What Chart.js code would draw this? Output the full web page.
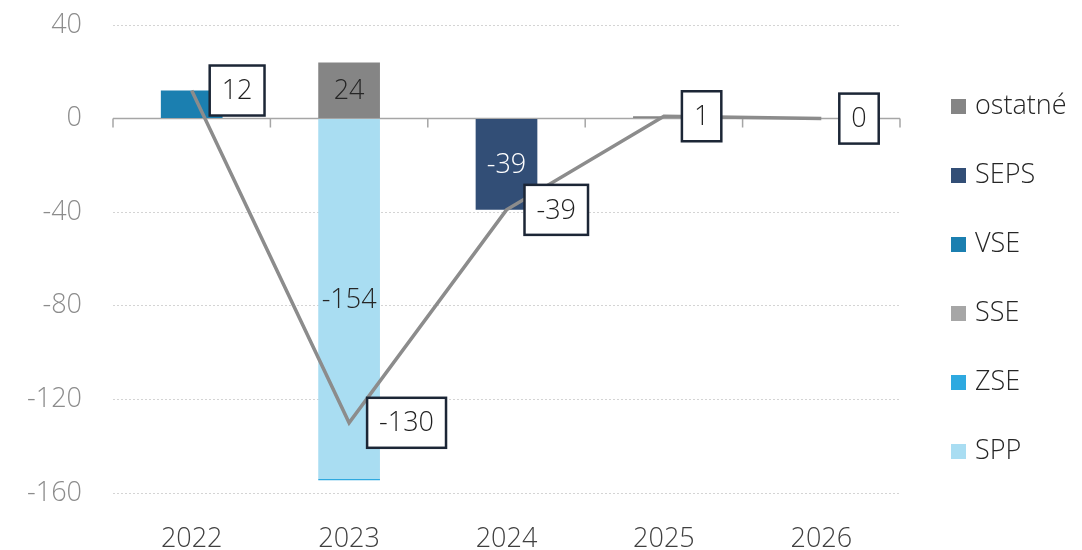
<!DOCTYPE html>
<html>
<head>
<meta charset="utf-8">
<script src="https://cdn.jsdelivr.net/npm/chart.js@4.4.1/dist/chart.umd.min.js"></script>
<style>
    html, body { margin: 0; padding: 0; background: #fff; }
    #wrap { width: 1082px; height: 550px; }
</style>
</head>
<body>
<div id="wrap"><canvas id="chart" width="1082" height="550"></canvas></div>
<script>
// Chart data
const years = ['2022', '2023', '2024', '2025', '2026'];
const spp = [null, -154, null, null, null];
const zse = [null, -0.5, null, null, null];
const sse = [null, null, null, null, null];
const vse = [12, null, null, null, null];
const seps = [null, null, -39, null, null];
const ostatne = [null, 24, null, 1, 0.3];
const total = [12, -130, -39, 1, 0];
const yTicks = [40, 0, -40, -80, -120, -160];
const legendOrder = ['ostatné', 'SEPS', 'VSE', 'SSE', 'ZSE', 'SPP'];
const barLabelSeries = ['ostatné', 'SEPS', 'SPP'];

const FONT = '"Open Sans", "DejaVu Sans", sans-serif';
const FS = 27;

function barSet(label, data, color, textColor) {
    return {
        type: 'bar',
        label: label,
        data: data,
        backgroundColor: color,
        borderWidth: 0,
        stack: 'bars',
        order: 1,
        barPercentage: 0.8,
        categoryPercentage: 0.49,
        labelColor: textColor
    };
}

// Axis line at zero, with category tick marks
const zeroAxisPlugin = {
    id: 'zeroAxis',
    beforeDatasetsDraw(chart) {
        const ctx = chart.ctx;
        const area = chart.chartArea;
        const y0 = chart.scales.y.getPixelForValue(0);
        ctx.save();
        ctx.strokeStyle = '#a6a6a6';
        ctx.lineWidth = 1.5;
        ctx.beginPath();
        ctx.moveTo(area.left, y0);
        ctx.lineTo(area.right, y0);
        for (let i = 0; i <= years.length; i++) {
            const tx = area.left + (area.right - area.left) * i / years.length;
            ctx.moveTo(tx, y0);
            ctx.lineTo(tx, y0 + 9);
        }
        ctx.stroke();
        ctx.restore();
    }
};

// Value labels for bars and boxed labels for the total line, plus legend
const labelPlugin = {
    id: 'valueLabels',
    afterDatasetsDraw(chart) {
        const ctx = chart.ctx;
        ctx.save();
        ctx.textAlign = 'center';
        ctx.textBaseline = 'middle';
        ctx.font = '300 ' + FS + 'px ' + FONT;

        chart.data.datasets.forEach((ds, i) => {
            if (ds.type !== 'bar' || !barLabelSeries.includes(ds.label)) return;
            const meta = chart.getDatasetMeta(i);
            meta.data.forEach((el, j) => {
                const v = ds.data[j];
                if (v === null || Math.abs(v) < 5) return;
                ctx.fillStyle = ds.labelColor;
                ctx.fillText(String(v), el.x, (el.y + el.base) / 2 + 1);
            });
        });

        const lineIndex = chart.data.datasets.findIndex(ds => ds.type === 'line');
        const lineMeta = chart.getDatasetMeta(lineIndex);
        lineMeta.data.forEach((pt, j) => {
            const text = String(total[j]);
            const w = ctx.measureText(text).width + 24;
            const h = 50;
            const left = pt.x + 18;
            const top = pt.y - h / 2;
            ctx.fillStyle = '#ffffff';
            ctx.fillRect(left, top, w, h);
            ctx.strokeStyle = '#1c2636';
            ctx.lineWidth = 2.5;
            ctx.strokeRect(left, top, w, h);
            ctx.fillStyle = '#1f1f1f';
            ctx.fillText(text, left + w / 2, pt.y + 1);
        });
        ctx.restore();
    },
    afterDraw(chart) {
        const ctx = chart.ctx;
        ctx.save();
        ctx.font = '300 ' + FS + 'px ' + FONT;
        ctx.textAlign = 'left';
        ctx.textBaseline = 'middle';
        legendOrder.forEach((name, k) => {
            const ds = chart.data.datasets.find(d => d.label === name);
            const cy = 106 + k * 69;
            ctx.fillStyle = ds.backgroundColor;
            ctx.fillRect(951, cy - 7, 15, 15);
            ctx.fillStyle = '#262626';
            ctx.fillText(name, 975, cy);
        });
        ctx.restore();
    }
};

const ctx = document.getElementById('chart');

new Chart(ctx, {
    data: {
        labels: years,
        datasets: [
            {
                type: 'line',
                label: 'spolu',
                data: total,
                borderColor: '#8c8c8c',
                borderWidth: 3.5,
                pointRadius: 0,
                tension: 0,
                stack: 'total',
                order: 0
            },
            barSet('SPP', spp, '#a9ddf2', '#262626'),
            barSet('ZSE', zse, '#2ea9e0', '#262626'),
            barSet('SSE', sse, '#a6a6a6', '#262626'),
            barSet('VSE', vse, '#1b7fb0', '#ffffff'),
            barSet('SEPS', seps, '#324e76', '#ffffff'),
            barSet('ostatné', ostatne, '#858585', '#262626')
        ]
    },
    options: {
        responsive: false,
        animation: false,
        layout: { padding: { left: 0, right: 182, top: 25, bottom: 0 } },
        plugins: {
            legend: { display: false },
            tooltip: { enabled: false }
        },
        scales: {
            x: {
                stacked: true,
                grid: { display: false, drawTicks: false },
                border: { display: false },
                ticks: {
                    color: '#404040',
                    font: { family: FONT, size: FS, weight: 300 },
                    padding: 30
                },
                afterFit(scale) {
                    scale.height = 57;
                    scale.paddingLeft = 0;
                    scale.paddingRight = 0;
                }
            },
            y: {
                stacked: true,
                min: -160,
                max: 40,
                afterBuildTicks(scale) {
                    scale.ticks = yTicks.map(v => ({ value: v }));
                },
                grid: {
                    color: ctx => ctx.tick && ctx.tick.value === 0 ? 'rgba(0,0,0,0)' : '#d4d4d4',
                    lineWidth: 1,
                    drawTicks: false
                },
                border: { display: false, dash: [2, 2] },
                ticks: {
                    color: '#8c8c8c',
                    font: { family: FONT, size: FS, weight: 300 },
                    padding: 31
                },
                afterFit(scale) {
                    scale.width = 113;
                    scale.paddingTop = 0;
                    scale.paddingBottom = 0;
                }
            }
        }
    },
    plugins: [zeroAxisPlugin, labelPlugin]
});
</script>
</body>
</html>
